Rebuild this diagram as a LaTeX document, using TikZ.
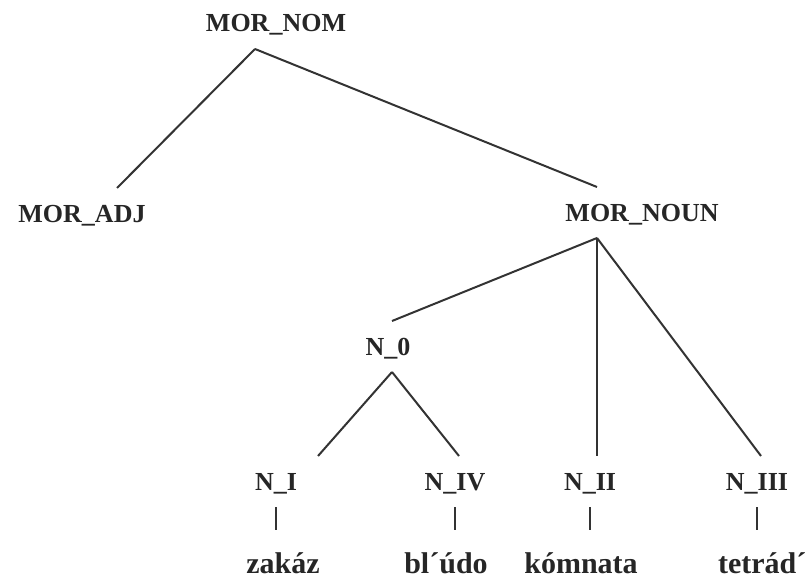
\documentclass[tikz,border=0pt]{standalone}
\usepackage{fontspec}
\setmainfont{Liberation Serif}

\begin{document}
\begin{tikzpicture}[x=1pt, y=-1pt,
    lab/.style={font=\fontsize{26}{30}\selectfont\bfseries, text=black!85, inner sep=0pt, outer xsep=0pt, outer ysep=17pt, text height=17pt, text depth=0pt, anchor=base},
    leaf/.style={lab, font=\fontsize{30}{34}\selectfont\bfseries, outer ysep=26pt},
    edge/.style={draw=black!80, line width=2pt}]
    \useasboundingbox (0,0) rectangle (805,580);

    \node (nom) [lab] at (276,32) {MOR\_NOM};
    \node (adj) [lab] at (82,222) {MOR\_ADJ};
    \node (noun) [lab] at (642,221) {MOR\_NOUN};
    \node (nzero) [lab] at (388,355) {N\_0};
    \node (ni) [lab] at (276,490) {N\_I};
    \node (niv) [lab] at (455,490) {N\_IV};
    \node (nii) [lab] at (590,490) {N\_II};
    \node (niii) [lab] at (757,490) {N\_III};
    \node (zakaz) [leaf] at (283,573) {zakáz};
    \node (bljudo) [leaf] at (446,573) {bl´údo};
    \node (komnata) [leaf] at (581,573) {kómnata};
    \node (tetrad) [leaf, anchor=base west] at (718,573) {tetrád´};

    \draw[edge] ([xshift=-21pt]nom.south) -- ([xshift=35pt]adj.north);
    \draw[edge] ([xshift=-21pt]nom.south) -- ([xshift=-45pt]noun.north);
    \draw[edge] ([xshift=-45pt]noun.south) -- ([xshift=4pt]nzero.north);
    \draw[edge] ([xshift=-45pt]noun.south) -- ([xshift=7pt]nii.north);
    \draw[edge] ([xshift=-45pt]noun.south) -- ([xshift=4pt]niii.north);
    \draw[edge] ([xshift=4pt]nzero.south) -- ([xshift=42pt]ni.north);
    \draw[edge] ([xshift=4pt]nzero.south) -- ([xshift=4pt]niv.north);
    \draw[edge] (ni) -- (zakaz.north -| ni);
    \draw[edge] (niv) -- (bljudo.north -| niv);
    \draw[edge] (nii) -- (komnata.north -| nii);
    \draw[edge] (niii) -- (tetrad.north -| niii);
\end{tikzpicture}
\end{document}
